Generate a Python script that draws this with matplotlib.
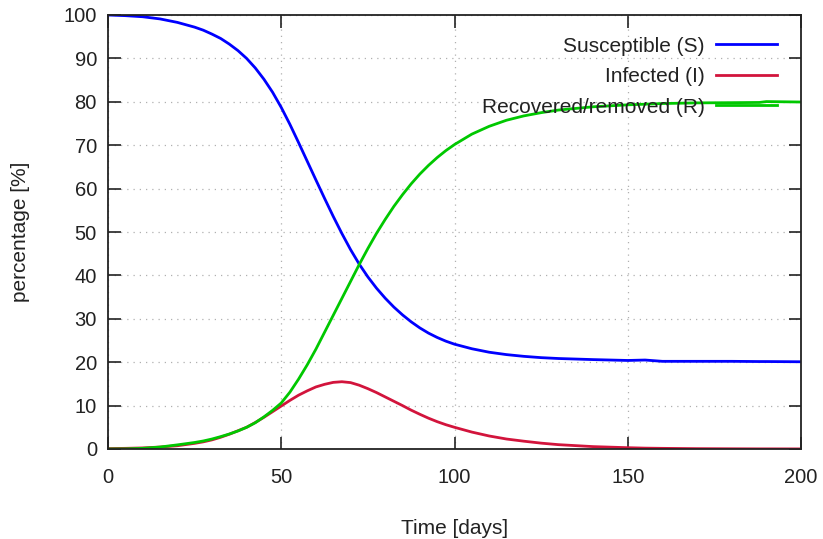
import matplotlib
matplotlib.use("Agg")
import matplotlib.pyplot as plt

plt.rcParams['font.family'] = ['Liberation Sans', 'DejaVu Sans']

days = [0, 5, 10, 15, 20, 25, 27.5, 30, 32.5, 35, 37.5, 40, 42.5, 45, 47.5, 50,
        52.5, 55, 57.5, 60, 62.5, 65, 67.5, 70, 72.5, 75, 77.5, 80, 82.5, 85,
        87.5, 90, 92.5, 95, 97.5, 100, 105, 110, 115, 120, 125, 130, 140, 150,
        155, 160, 170, 180, 188, 190, 200]

susceptible = [100, 99.85, 99.6, 99.1, 98.3, 97.2, 96.5, 95.6, 94.6, 93.3, 91.8,
               90.0, 87.8, 85.2, 82.2, 78.7, 74.8, 70.6, 66.3, 62.0, 57.75, 53.6,
               49.65, 45.95, 42.6, 39.65, 37.05, 34.75, 32.7, 30.9, 29.3, 27.9,
               26.7, 25.7, 24.85, 24.15, 23.1, 22.3, 21.75, 21.35, 21.05, 20.85,
               20.6, 20.4, 20.5, 20.2, 20.2, 20.2, 20.15, 20.15, 20.1]

infected = [0.1, 0.15, 0.25, 0.45, 0.75, 1.3, 1.65, 2.1, 2.7, 3.4, 4.2, 5.0, 6.1,
            7.3, 8.6, 9.9, 11.2, 12.4, 13.4, 14.3, 14.9, 15.35, 15.5, 15.3, 14.7,
            13.9, 13.0, 12.0, 11.0, 10.0, 8.95, 8.0, 7.1, 6.3, 5.6, 5.0, 3.9,
            3.0, 2.3, 1.8, 1.35, 1.0, 0.55, 0.3, 0.2, 0.15, 0.08, 0.05, 0.03,
            0.03, 0.02]

recovered = [0.0, 0.02, 0.15, 0.45, 0.95, 1.5, 1.85, 2.3, 2.85, 3.45, 4.15, 5.0,
             6.05, 7.4, 8.9, 10.6, 13.1, 16.1, 19.4, 23.0, 26.9, 30.8, 34.7,
             38.6, 42.5, 46.2, 49.7, 52.9, 55.9, 58.6, 61.1, 63.35, 65.35, 67.15,
             68.75, 70.15, 72.55, 74.35, 75.75, 76.75, 77.5, 78.1, 78.85, 79.3,
             79.45, 79.6, 79.75, 79.8, 79.85, 80.05, 79.95]

labels = ['Susceptible (S)', 'Infected (I)', 'Recovered/removed (R)']
colors = ['#0000ff', '#d2143c', '#00c800']

xticks = [0, 50, 100, 150, 200]
yticks = [0, 10, 20, 30, 40, 50, 60, 70, 80, 90, 100]

fig = plt.figure(figsize=(8.23, 5.39), dpi=100)
ax = fig.add_axes([108/823, 90/539, 693/823, 434/539])

for series, lab, col in zip([susceptible, infected, recovered], labels, colors):
    ax.plot(days, series, color=col, lw=2.0, label=lab,
            solid_joinstyle='round')

ax.set_xlim(0, 200)
ax.set_ylim(0, 100)
ax.set_xticks(xticks)
ax.set_yticks(yticks)
ax.tick_params(direction='in', length=9, width=1.2, top=True, right=True,
               labelsize=14.5, colors='#222222')
ax.tick_params(axis='x', pad=14)
ax.tick_params(axis='y', pad=8)
ax.grid(True, linestyle=(0, (1, 4)), color='#b0b0b0', lw=0.9)
for s in ax.spines.values():
    s.set_linewidth(1.3)
    s.set_color('#222222')

ax.set_xlabel('Time [days]', fontsize=15, labelpad=23, color='#222222')
ax.set_ylabel('percentage [%]', fontsize=15, labelpad=24, color='#222222')

leg = ax.legend(loc='upper right', bbox_to_anchor=(0.965, 0.95), frameon=False,
                markerfirst=False, fontsize=15, handlelength=2.9,
                handletextpad=0.55, labelspacing=0.55, borderaxespad=0,
                borderpad=0)
for t in leg.get_texts():
    t.set_color('#222222')

fig.savefig('out.png', dpi=100)
